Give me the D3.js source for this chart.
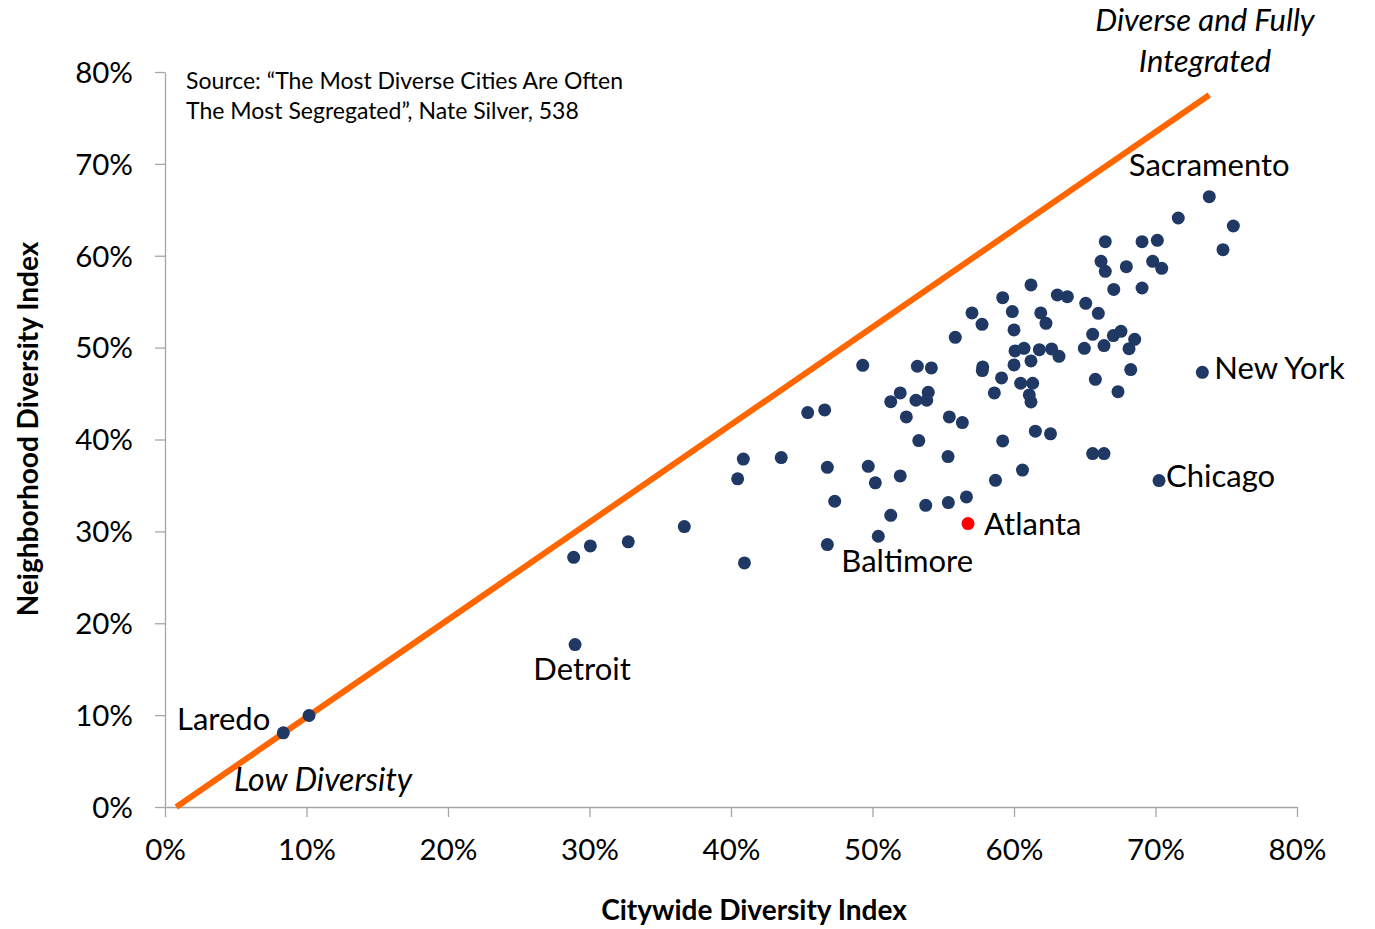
<!DOCTYPE html>
<html>
<head>
<meta charset="utf-8">
<script src="https://cdn.jsdelivr.net/npm/d3@7.9.0/dist/d3.min.js"></script>
<style>
  body { margin: 0; background: #fff; }
  svg text { font-family: Lato, "Noto Sans", sans-serif; fill: #000; }
</style>
</head>
<body>
<div id="chart"></div>
<script>
// Citywide vs neighborhood diversity index (fractions)
const cityX = [
  0.4931, 0.5317, 0.5416, 0.5779, 0.5776, 0.5912, 0.5196, 0.5129, 0.5394, 0.5307,
  0.5383, 0.5861, 0.5239, 0.5543, 0.5635, 0.4542, 0.4662, 0.5327, 0.5920, 0.4087,
  0.4047, 0.4355, 0.4681, 0.4970, 0.5020, 0.5196, 0.5534, 0.5869, 0.4733, 0.5376,
  0.5536, 0.5664, 0.5129, 0.5675, 0.5041, 0.4681, 0.4095, 0.2888, 0.3006, 0.3274,
  0.3670, 0.2898, 0.0836, 0.1018, 0.5703, 0.5774, 0.5585, 0.5920, 0.6120, 0.6306,
  0.6377, 0.6507, 0.6596, 0.5988, 0.6189, 0.6226, 0.6000, 0.6556, 0.6702, 0.6756,
  0.6853, 0.6813, 0.6497, 0.6636, 0.6007, 0.6071, 0.6179, 0.6266, 0.6318, 0.6000,
  0.6120, 0.6047, 0.6132, 0.6108, 0.6120, 0.6575, 0.6825, 0.6735, 0.7331, 0.6151,
  0.6258, 0.6556, 0.6636, 0.6060, 0.7025, 0.6645, 0.6905, 0.7013, 0.6615, 0.6645,
  0.6794, 0.6980, 0.7044, 0.6705, 0.6905, 0.7161, 0.7550, 0.7477, 0.7380
];
const hoodY = [
  0.4807, 0.4797, 0.4779, 0.4790, 0.4750, 0.4670, 0.4507, 0.4412, 0.4514, 0.4427,
  0.4427, 0.4507, 0.4246, 0.4246, 0.4184, 0.4293, 0.4322, 0.3988, 0.3985, 0.3787,
  0.3572, 0.3803, 0.3697, 0.3708, 0.3528, 0.3604, 0.3814, 0.3556, 0.3328, 0.3284,
  0.3313, 0.3375, 0.3175, 0.3085, 0.2947, 0.2856, 0.2657, 0.2718, 0.2842, 0.2886,
  0.3052, 0.1768, 0.0807, 0.0996, 0.5378, 0.5254, 0.5112, 0.5544, 0.5682, 0.5573,
  0.5555, 0.5482, 0.5373, 0.5392, 0.5378, 0.5264, 0.5193, 0.5145, 0.5131, 0.5177,
  0.5090, 0.4989, 0.4992, 0.5022, 0.4964, 0.4992, 0.4978, 0.4986, 0.4905, 0.4812,
  0.4855, 0.4612, 0.4612, 0.4485, 0.4409, 0.4655, 0.4761, 0.4521, 0.4731, 0.4091,
  0.4062, 0.3847, 0.3847, 0.3667, 0.3553, 0.6153, 0.6153, 0.6168, 0.5939, 0.5830,
  0.5881, 0.5939, 0.5863, 0.5634, 0.5649, 0.6411, 0.6324, 0.6066, 0.6643
];
// named cities: index into the arrays above
const cityNames = ["Sacramento", "New York", "Chicago", "Atlanta", "Baltimore", "Detroit", "Laredo"];
const cityIndex = [98, 78, 84, 33, 35, 41, 42];
const highlightCity = "Atlanta";

// reference line endpoints (x, y)
const refLineX = [0.008, 0.738];
const refLineY = [0.0, 0.775];

const xTicks = [0, 0.1, 0.2, 0.3, 0.4, 0.5, 0.6, 0.7, 0.8];
const yTicks = [0, 0.1, 0.2, 0.3, 0.4, 0.5, 0.6, 0.7, 0.8];

const W = 1375, H = 929;
const margin = {top: 72, right: 78, bottom: 122, left: 165};
const width = W - margin.left - margin.right,
      height = H - margin.top - margin.bottom;

const svg = d3.select("#chart")
  .append("svg")
    .attr("width", W)
    .attr("height", H);

const g = svg.append("g")
    .attr("transform", `translate(${margin.left}, ${margin.top})`);

const x = d3.scaleLinear().domain([0, 0.8]).range([0, width]);
const y = d3.scaleLinear().domain([0, 0.8]).range([height, 0]);

// X axis
const xAxis = g.append("g")
    .attr("transform", `translate(0, ${height})`)
    .call(d3.axisBottom(x).tickValues(xTicks).tickFormat(d3.format(".0%"))
      .tickSize(10).tickSizeOuter(0).tickPadding(22));
// Y axis
const yAxis = g.append("g")
    .call(d3.axisLeft(y).tickValues(yTicks).tickFormat(d3.format(".0%"))
      .tickSize(10).tickSizeOuter(0).tickPadding(22));

[xAxis, yAxis].forEach(a => {
  a.select(".domain").attr("stroke", "#a6a6a6").attr("stroke-width", 1.3);
  a.selectAll(".tick line").attr("stroke", "#a6a6a6").attr("stroke-width", 1.3);
  a.selectAll(".tick text").attr("font-size", 29.5).attr("fill", "#000")
    .style("font-family", "Lato, 'Noto Sans', sans-serif");
});
yAxis.selectAll(".tick text").attr("dy", "0.35em");

// reference diagonal
g.append("line")
    .attr("x1", x(refLineX[0])).attr("y1", y(refLineY[0]))
    .attr("x2", x(refLineX[1])).attr("y2", y(refLineY[1]))
    .attr("stroke", "#ff6600")
    .attr("stroke-width", 6);

// dots
const pts = d3.zip(cityX, hoodY);
const atlantaIdx = cityIndex[cityNames.indexOf(highlightCity)];
g.selectAll("circle.pt")
  .data(pts.filter((d, i) => i !== atlantaIdx))
  .join("circle")
    .attr("class", "pt")
    .attr("cx", d => x(d[0]))
    .attr("cy", d => y(d[1]))
    .attr("r", 6.5)
    .attr("fill", "#1f3864");
g.append("circle")
    .attr("cx", x(pts[atlantaIdx][0]))
    .attr("cy", y(pts[atlantaIdx][1]))
    .attr("r", 6.5)
    .attr("fill", "#ff0000");

// city labels, offset from their point
const labelStyle = {
  "Sacramento": {dx: 0, dy: -21, anchor: "middle"},
  "New York":   {dx: 12, dy: 7, anchor: "start"},
  "Chicago":    {dx: 7, dy: 6, anchor: "start"},
  "Atlanta":    {dx: 16, dy: 11, anchor: "start"},
  "Baltimore":  {dx: 14, dy: 27, anchor: "start"},
  "Detroit":    {dx: 7, dy: 35, anchor: "middle"},
  "Laredo":     {dx: -13, dy: -3, anchor: "end"}
};
g.selectAll("text.city")
  .data(d3.zip(cityNames, cityIndex))
  .join("text")
    .attr("class", "city")
    .attr("x", ([n, i]) => x(cityX[i]) + labelStyle[n].dx)
    .attr("y", ([n, i]) => y(hoodY[i]) + labelStyle[n].dy)
    .attr("text-anchor", ([n]) => labelStyle[n].anchor)
    .attr("font-size", 31)
    .text(([n]) => n);

// corner annotations
svg.append("text")
    .attr("x", 1205).attr("y", 31)
    .attr("text-anchor", "middle")
    .attr("font-size", 31).attr("font-style", "italic")
    .text("Diverse and Fully");
svg.append("text")
    .attr("x", 1205).attr("y", 72)
    .attr("text-anchor", "middle")
    .attr("font-size", 31).attr("font-style", "italic")
    .text("Integrated");
svg.append("text")
    .attr("x", 234).attr("y", 791)
    .attr("font-size", 32).attr("font-style", "italic")
    .text("Low Diversity");

// source note
const src = svg.append("text")
    .attr("x", 186).attr("y", 89)
    .attr("font-size", 23);
src.append("tspan").attr("x", 186).text("Source: \u201cThe Most Diverse Cities Are Often");
src.append("tspan").attr("x", 186).attr("dy", 30).text("The Most Segregated\u201d, Nate Silver, 538");

// axis titles
svg.append("text")
    .attr("x", 754).attr("y", 920)
    .attr("text-anchor", "middle")
    .attr("font-size", 28).attr("font-weight", "bold")
    .text("Citywide Diversity Index");
svg.append("text")
    .attr("transform", "translate(38, 429) rotate(-90)")
    .attr("text-anchor", "middle")
    .attr("font-size", 28).attr("font-weight", "bold")
    .text("Neighborhood Diversity Index");
</script>
</body>
</html>
